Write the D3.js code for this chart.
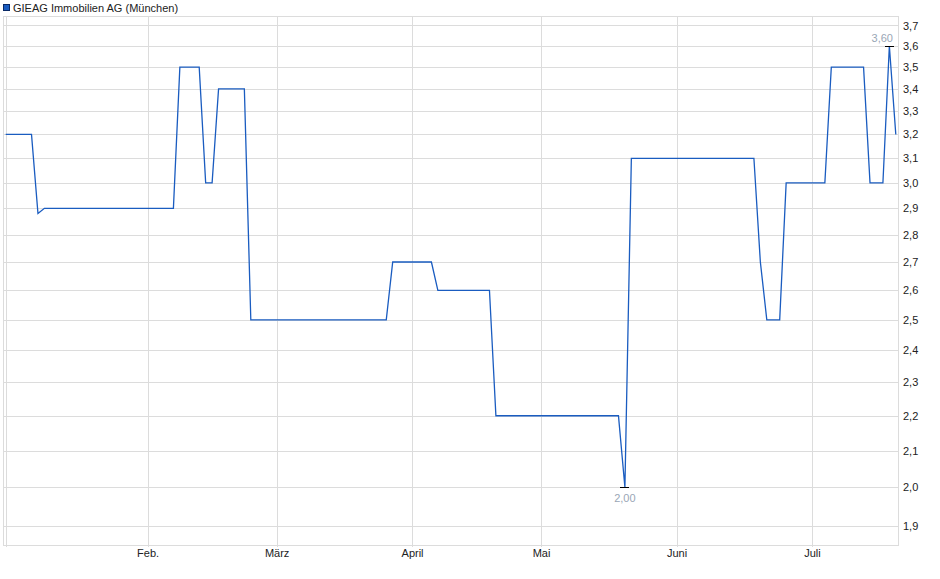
<!DOCTYPE html>
<html>
<head>
<meta charset="utf-8">
<script src="https://cdn.jsdelivr.net/npm/d3@7/dist/d3.min.js"></script>
<style>
  html, body { margin: 0; padding: 0; background: #fff; }
  svg { display: block; font-family: "Liberation Sans", Arial, sans-serif; }
</style>
</head>
<body>
<svg id="chart" width="940" height="579"></svg>
<script>
// ---------- data ----------
const title = "GIEAG Immobilien AG (München)";
const holidays = ["2025-01-01", "2025-04-18", "2025-04-21", "2025-05-01"];
const firstDay = "2025-01-02";
const lastDay = "2025-07-18";
const dates = ["2025-01-02","2025-01-08","2025-01-09","2025-01-10","2025-02-07","2025-02-10",
  "2025-02-13","2025-02-14","2025-02-17","2025-02-18","2025-02-24","2025-02-25","2025-03-26",
  "2025-03-27","2025-04-04","2025-04-07","2025-04-17","2025-04-22","2025-05-20","2025-05-21",
  "2025-05-22","2025-06-18","2025-06-19","2025-06-20","2025-06-24","2025-06-25","2025-07-03",
  "2025-07-04","2025-07-11","2025-07-14","2025-07-16","2025-07-17","2025-07-18"];
const prices = [3.2,3.2,2.88,2.9,2.9,3.5,3.5,3.0,3.0,3.4,3.4,2.5,2.5,2.7,2.7,2.6,2.6,2.2,2.2,2.0,
  3.1,3.1,2.7,2.5,2.5,3.0,3.0,3.5,3.5,3.0,3.0,3.6,3.2];
const monthTicks = ["2025-01-02","2025-02-03","2025-03-03","2025-04-01","2025-05-02","2025-06-02","2025-07-01"];
const monthLabels = ["", "Feb.", "März", "April", "Mai", "Juni", "Juli"];
const yTicks = [1.9,2.0,2.1,2.2,2.3,2.4,2.5,2.6,2.7,2.8,2.9,3.0,3.1,3.2,3.3,3.4,3.5,3.6,3.7];

// ---------- trading-day calendar (weekdays minus exchange holidays) ----------
const parse = d3.utcParse("%Y-%m-%d");
const fmtKey = d3.utcFormat("%Y-%m-%d");
const hol = new Set(holidays);
const tradingDays = d3.utcDays(parse(firstDay), d3.utcDay.offset(parse(lastDay), 1))
  .filter(d => d.getUTCDay() !== 0 && d.getUTCDay() !== 6 && !hol.has(fmtKey(d)));
const dayIndex = new Map(tradingDays.map((d, i) => [fmtKey(d), i]));

const de = d3.formatLocale({decimal: ",", thousands: ".", grouping: [3], currency: ["", " €"]});
const f1 = de.format(".1f"), f2 = de.format(".2f");

// ---------- layout ----------
const L = 3, R = 898, T = 16, B = 545;
const gridColor = "#dcdcdc";
const lineColor = "#1a5cc0";

const svg = d3.select("#chart");

const x = d3.scaleLinear().domain([-0.42, tradingDays.length - 1 + 0.34]).range([L, R]);
const y = d3.scaleLog().domain([1.852, 3.747]).range([B, T]);

const data = dates.map((d, i) => ({i: dayIndex.get(d), v: prices[i]}));

// horizontal grid
svg.append("g")
  .attr("transform", `translate(${L},0)`)
  .call(d3.axisLeft(y).tickValues(yTicks).tickSize(-(R - L)).tickFormat(""))
  .call(g => g.select(".domain").remove())
  .call(g => g.selectAll("line").attr("stroke", gridColor).attr("shape-rendering", "crispEdges"));

// vertical grid (month ticks), extending slightly below the plot
const xTickIdx = monthTicks.map(d => dayIndex.get(d));
svg.append("g")
  .attr("transform", `translate(0,${B + 2})`)
  .call(d3.axisBottom(x).tickValues(xTickIdx).tickSize(-(B + 2 - T)).tickFormat(""))
  .call(g => g.select(".domain").remove())
  .call(g => g.selectAll("line").attr("stroke", gridColor).attr("shape-rendering", "crispEdges"));

// plot frame
svg.append("rect")
  .attr("x", L).attr("y", T).attr("width", R - L).attr("height", B - T)
  .attr("fill", "none").attr("stroke", gridColor).attr("shape-rendering", "crispEdges");

// x labels
svg.append("g")
  .attr("transform", `translate(0,${B})`)
  .call(d3.axisBottom(x).tickValues(xTickIdx).tickSize(0).tickPadding(4)
    .tickFormat((d, i) => monthLabels[i]))
  .call(g => g.select(".domain").remove())
  .call(g => g.selectAll("text").attr("font-size", 11).attr("fill", "#222")
    .attr("font-family", "Liberation Sans, Arial, sans-serif"));

// y labels (right)
svg.append("g")
  .attr("transform", `translate(${R},0)`)
  .call(d3.axisRight(y).tickValues(yTicks).tickSize(0).tickPadding(5).tickFormat(d => f1(d)))
  .call(g => g.select(".domain").remove())
  .call(g => g.selectAll("text").attr("font-size", 11).attr("fill", "#222")
    .attr("font-family", "Liberation Sans, Arial, sans-serif"));

// price line
const line = d3.line().x(d => x(d.i)).y(d => y(d.v));
svg.append("path")
  .datum(data)
  .attr("fill", "none")
  .attr("stroke", lineColor)
  .attr("stroke-width", 1.3)
  .attr("d", line);

// high / low markers
const maxP = data.reduce((a, b) => (b.v > a.v ? b : a));
const minP = data.reduce((a, b) => (b.v < a.v ? b : a));
function marker(p, above) {
  const cx = x(p.i), cy = y(p.v);
  svg.append("line")
    .attr("x1", cx - 4.5).attr("x2", cx + 4.5).attr("y1", cy).attr("y2", cy)
    .attr("stroke", "#000").attr("stroke-width", 1).attr("shape-rendering", "crispEdges");
  const t = svg.append("text")
    .attr("x", cx).attr("y", above ? cy - 4 : cy + 14.5)
    .attr("text-anchor", "middle")
    .attr("font-size", 11)
    .attr("fill", "#9aa6b6")
    .text(f2(p.v));
  const w = t.node().getComputedTextLength();
  if (cx + w / 2 > R - 5) t.attr("x", R - 5 - w / 2);
}
marker(maxP, true);
marker(minP, false);

// legend
svg.append("rect")
  .attr("x", 3.5).attr("y", 4.5).attr("width", 6).attr("height", 6)
  .attr("fill", "#1a5cc0").attr("stroke", "#0a2a66").attr("stroke-width", 1);
svg.append("text")
  .attr("x", 13).attr("y", 12)
  .attr("font-size", 11).attr("fill", "#222")
  .text(title);
</script>
</body>
</html>
